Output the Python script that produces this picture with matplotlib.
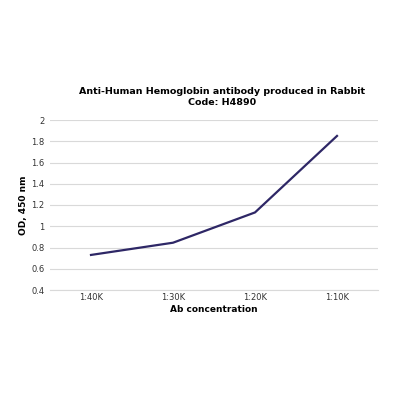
import matplotlib.pyplot as plt
import numpy as np

dilutions = ['1:40K', '1:30K', '1:20K', '1:10K']
od_450 = [0.73, 0.845, 1.13, 1.85]

fig = plt.figure(figsize=(4, 4), dpi=100)
ax = fig.add_axes([0.125, 0.275, 0.82, 0.425])

x = np.arange(len(dilutions))
ax.plot(x, od_450, color='#2e2766', linewidth=1.6)

ax.set_xlim(-0.5, len(dilutions) - 0.5)
ax.set_ylim(0.4, 2.0)
ax.set_yticks(np.arange(0.4, 2.01, 0.2))
ax.set_yticklabels(['0.4', '0.6', '0.8', '1', '1.2', '1.4', '1.6', '1.8', '2'])
ax.set_xticks(x)
ax.set_xticklabels(dilutions)
ax.tick_params(axis='y', length=0, labelsize=6, colors='#333333', pad=4)
ax.tick_params(axis='x', length=0, labelsize=6, colors='#333333', pad=2)

ax.grid(axis='y', color='#d9d9d9', linewidth=0.8)
ax.set_axisbelow(True)
for s in ['top', 'right', 'left']:
    ax.spines[s].set_visible(False)
ax.spines['bottom'].set_color('#d9d9d9')

ax.set_xlabel('Ab concentration', fontsize=6.5, fontweight='bold', labelpad=2)
ax.set_ylabel('OD, 450 nm', fontsize=6.5, fontweight='bold')
ax.yaxis.set_label_coords(-0.068, 0.5)
ax.set_title('Anti-Human Hemoglobin antibody produced in Rabbit\nCode: H4890',
             fontsize=6.8, fontweight='bold', pad=11, linespacing=1.2, x=0.525)

fig.savefig('out.png', dpi=100)
